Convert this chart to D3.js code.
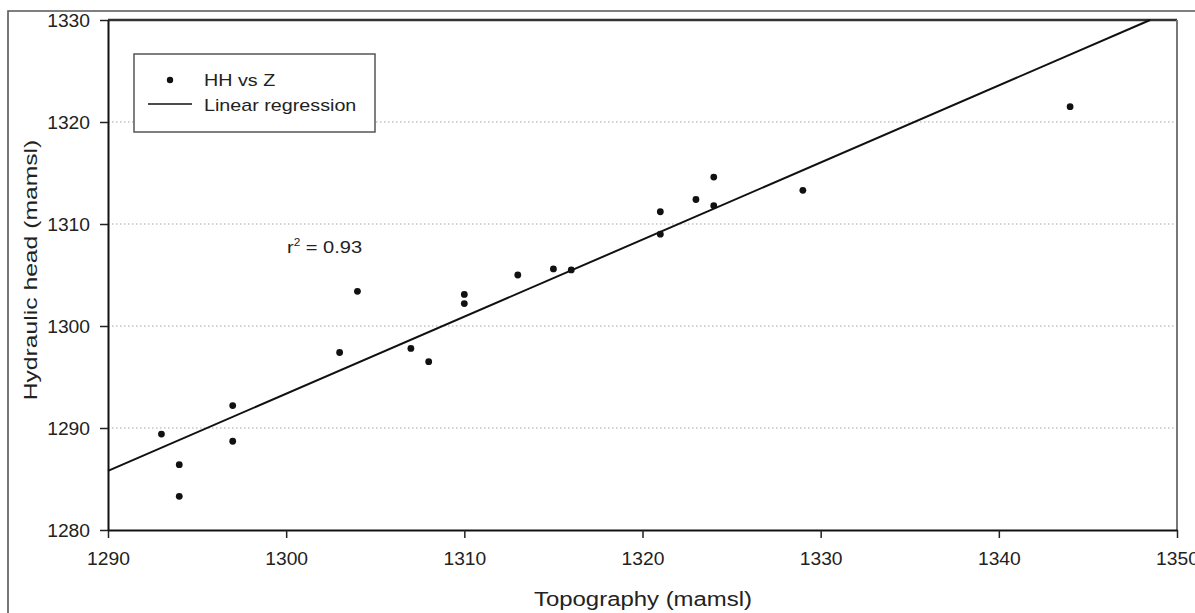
<!DOCTYPE html>
<html>
<head>
<meta charset="utf-8">
<script src="https://cdn.jsdelivr.net/npm/d3@7/dist/d3.min.js"></script>
<style>
  html, body { margin: 0; padding: 0; background: #fff; }
  svg { display: block; }
  text { font-family: "Liberation Sans", Arial, sans-serif; fill: #222; }
</style>
</head>
<body>
<svg id="chart" width="1195" height="613"></svg>
<script>
// Observations: topography (Z) vs hydraulic head (HH), metres above mean sea level
const topography = [1293, 1294, 1294, 1297, 1297, 1303, 1304, 1307, 1308, 1310, 1310,
                    1313, 1315, 1316, 1321, 1321, 1323, 1324, 1324, 1329, 1344];
const hydraulicHead = [1289.4, 1286.4, 1283.3, 1292.2, 1288.7, 1297.4, 1303.4, 1297.8, 1296.5, 1303.1, 1302.2,
                       1305.0, 1305.6, 1305.5, 1311.2, 1309.0, 1312.4, 1314.6, 1311.8, 1313.3, 1321.5];

// Fitted line HH = slope * Z + intercept
const regressionSlope = 0.7556;
const regressionIntercept = 311.08;
const rSquared = "0.93";

const xTicks = [1290, 1300, 1310, 1320, 1330, 1340, 1350];
const yTicks = [1280, 1290, 1300, 1310, 1320, 1330];
const gridValues = [1290, 1300, 1310, 1320];
const legendLabels = ["HH vs Z", "Linear regression"];

const svg = d3.select("#chart");
const plot = { left: 108, right: 1177, top: 20, bottom: 530 };

const x = d3.scaleLinear().domain([1290, 1350]).range([plot.left, plot.right]);
const y = d3.scaleLinear().domain([1280, 1330]).range([plot.bottom, plot.top]);

// Text with a slight horizontal stretch along its reading direction
function label(g, str, px, py, size, sx, anchor, rotate) {
  const t = g.append("g")
    .attr("transform", `translate(${px},${py})` + (rotate ? ` rotate(${rotate})` : "") + ` scale(${sx},1)`);
  return t.append("text").attr("text-anchor", anchor || "start")
    .style("font-size", size + "px").text(str);
}

// Outer figure frame
svg.append("path")
  .attr("d", `M8,${613 + 2} L8,11 L${1195 + 2},11`)
  .attr("fill", "none").attr("stroke", "#555").attr("stroke-width", 1.6);

// Dotted horizontal grid
svg.append("g").selectAll("line").data(gridValues).join("line")
  .attr("x1", plot.left).attr("x2", plot.right)
  .attr("y1", d => y(d)).attr("y2", d => y(d))
  .attr("stroke", "#a8a8a8").attr("stroke-width", 1.1)
  .attr("stroke-dasharray", "1.5,2.5");

// Plot box: top and right borders
svg.append("line").attr("x1", plot.left).attr("x2", plot.right)
  .attr("y1", plot.top).attr("y2", plot.top)
  .attr("stroke", "#333").attr("stroke-width", 2.5);
svg.append("line").attr("x1", plot.right).attr("x2", plot.right)
  .attr("y1", plot.top).attr("y2", plot.bottom)
  .attr("stroke", "#777").attr("stroke-width", 2);

// Axes
const xAxis = svg.append("g").attr("transform", `translate(0,${plot.bottom})`)
  .call(d3.axisBottom(x).tickValues(xTicks).tickFormat(d3.format("d")).tickSize(8).tickSizeOuter(0));
const yAxis = svg.append("g").attr("transform", `translate(${plot.left},0)`)
  .call(d3.axisLeft(y).tickValues(yTicks).tickFormat(d3.format("d")).tickSize(8).tickSizeOuter(0));

[xAxis, yAxis].forEach(a => {
  a.select(".domain").attr("stroke", "#111").attr("stroke-width", 2);
  a.selectAll(".tick line").attr("stroke", "#222").attr("stroke-width", 1.5);
  a.selectAll(".tick text").remove();
});

xAxis.selectAll(".tick").each(function (d) {
  label(d3.select(this), d3.format("d")(d), 0, 35, 18, 1.07, "middle");
});
yAxis.selectAll(".tick").each(function (d) {
  label(d3.select(this), d3.format("d")(d), -18, 6.5, 18, 1.07, "end");
});

// Regression line, from the left axis to where it leaves the top of the plot
const xEnd = Math.min(1350, (1330 - regressionIntercept) / regressionSlope);
const lineData = [1290, xEnd].map(v => [v, regressionSlope * v + regressionIntercept]);
svg.append("path")
  .datum(lineData)
  .attr("d", d3.line().x(d => x(d[0])).y(d => y(d[1])))
  .attr("fill", "none").attr("stroke", "#111").attr("stroke-width", 2);

// Observation points
svg.append("g").selectAll("circle").data(topography).join("circle")
  .attr("cx", d => x(d))
  .attr("cy", (d, i) => y(hydraulicHead[i]))
  .attr("r", 3.4)
  .attr("fill", "#111");

// r² annotation
const r2 = label(svg, "r", 287, 253, 17, 1.18, "start");
r2.append("tspan").attr("dy", -7).style("font-size", "10px").text("2");
r2.append("tspan").attr("dy", 7).text(" = " + rSquared);

// Legend
const legend = svg.append("g");
legend.append("rect")
  .attr("x", 134).attr("y", 54).attr("width", 241).attr("height", 78)
  .attr("fill", "#fff").attr("stroke", "#555").attr("stroke-width", 1.5);
legend.append("circle").attr("cx", 170).attr("cy", 80).attr("r", 3.2).attr("fill", "#111");
legend.append("line").attr("x1", 148).attr("x2", 192).attr("y1", 104).attr("y2", 104)
  .attr("stroke", "#111").attr("stroke-width", 1.6);
label(legend, legendLabels[0], 204, 86, 17, 1.16, "start");
label(legend, legendLabels[1], 204, 111, 17, 1.16, "start");

// Axis titles
label(svg, "Topography (mamsl)", 643, 606, 21, 1.14, "middle");
label(svg, "Hydraulic head (mamsl)", 37, 270, 19, 1.3, "middle", -90);
</script>
</body>
</html>
